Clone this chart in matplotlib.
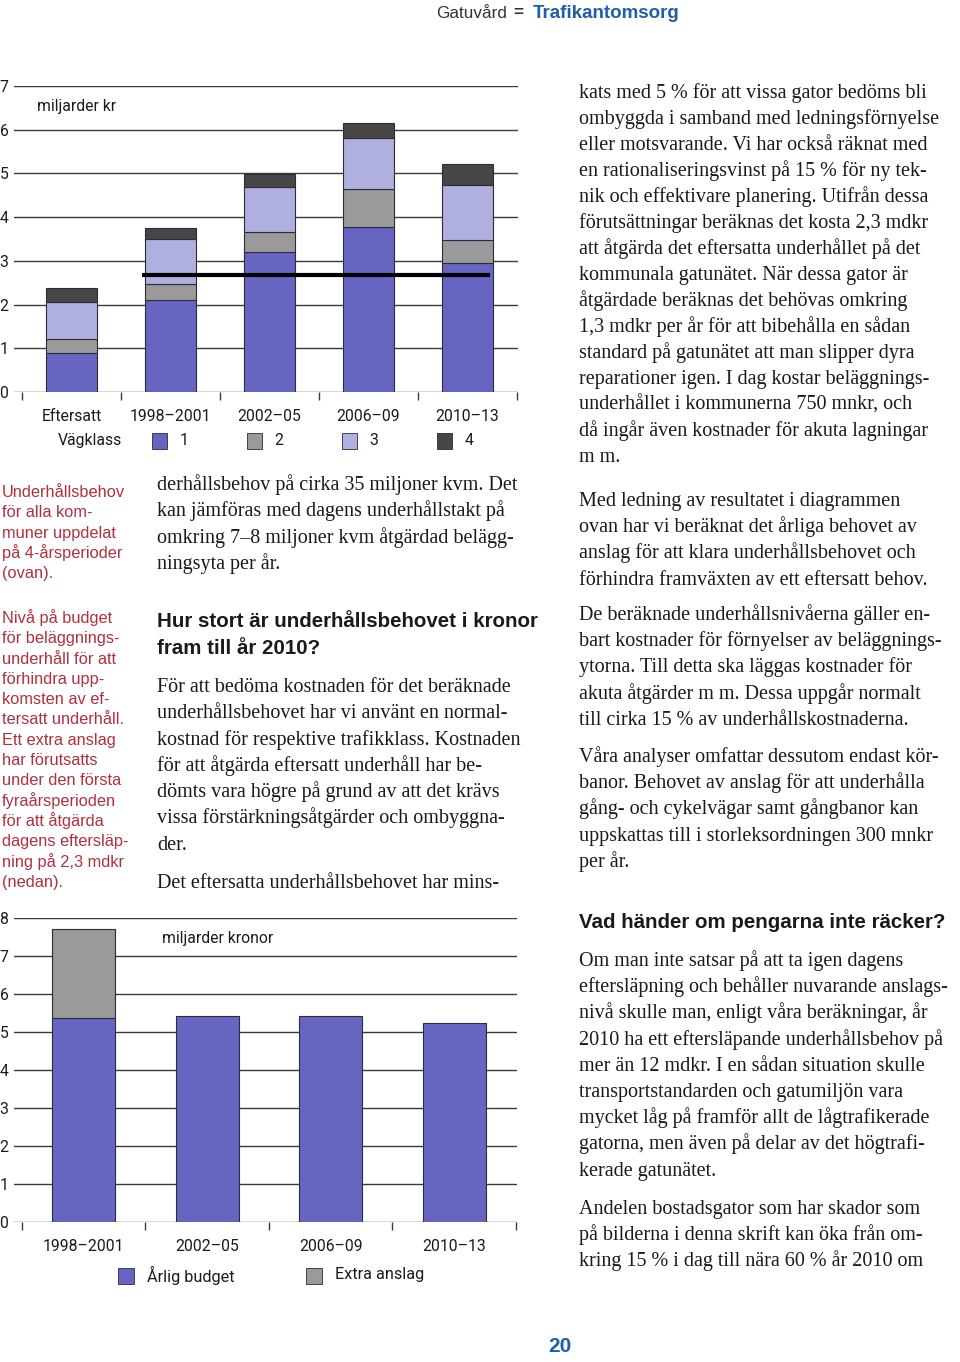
import matplotlib
matplotlib.use("Agg")
import matplotlib.pyplot as plt
from matplotlib.patches import Rectangle
import numpy as np

# ---------------- data ----------------
top_categories = ["Eftersatt", "1998–2001", "2002–05", "2006–09", "2010–13"]
class1 = [0.89, 2.11, 3.21, 3.78, 2.95]
class2 = [0.32, 0.36, 0.46, 0.87, 0.52]
class3 = [0.86, 1.03, 1.01, 1.17, 1.27]
class4 = [0.31, 0.25, 0.30, 0.33, 0.47]
class_labels = ["1", "2", "3", "4"]
budget_level = 2.68
top_yticks = [0, 1, 2, 3, 4, 5, 6, 7]

bottom_categories = ["1998–2001", "2002–05", "2006–09", "2010–13"]
annual_budget = [5.38, 5.42, 5.42, 5.23]
extra_grant = [2.33, 0.0, 0.0, 0.0]
bottom_labels = ["Årlig budget", "Extra anslag"]
bottom_yticks = [0, 1, 2, 3, 4, 5, 6, 7, 8]

# ---------------- style ----------------
C1, C2, C3, C4 = "#6666c2", "#9a9a9a", "#b0b0e0", "#464646"
EDGE = "#2b2b3a"
GRID = "#3a3a3a"
RED = "#b0303f"
BLUE = "#1f5fa8"
TXT = "#1a1a1a"
SANS = ["Roboto", "DejaVu Sans"]
CAPF = ["Liberation Sans", "DejaVu Sans"]
SERIF = ["Liberation Serif", "DejaVu Serif"]
CFS = 11.3  # chart font size

W, H = 960, 1362
fig = plt.figure(figsize=(W / 100, H / 100), dpi=100)
fig.patch.set_facecolor("white")


def fx(x):
    return x / W


def fy(y):
    return 1 - y / H


def ptext(x, y, s, **kw):
    fig.text(fx(x), fy(y), s, **kw)


# ---------------- top chart ----------------
ax1 = fig.add_axes([fx(14), fy(392), 504 / W, 306 / H])
x1 = np.arange(len(top_categories))
bw = 0.51
bottoms = np.zeros(len(x1))
for vals, col in zip([class1, class2, class3, class4], [C1, C2, C3, C4]):
    ax1.bar(x1, vals, bw, bottom=bottoms, color=col, edgecolor=EDGE,
            linewidth=0.8, zorder=3)
    bottoms += np.array(vals)
ax1.hlines(budget_level, x1[1] - bw / 2 - 0.03, x1[-1] + bw / 2 - 0.03,
           color="black", linewidth=3, zorder=4)
ax1.set_xlim(-0.5 - 8 / 99, 4.5 + 1 / 99)
ax1.set_ylim(0, 7)
for sp in ax1.spines.values():
    sp.set_visible(False)
ax1.set_yticks(top_yticks)
ax1.set_yticklabels([str(t) for t in top_yticks], family=SANS, fontsize=CFS,
                    color=TXT)
ax1.yaxis.grid(True, color=GRID, linewidth=1.0, zorder=0)
ax1.tick_params(axis="y", length=0, pad=4)
ax1.set_xticks(x1)
ax1.set_xticklabels(top_categories, family=SANS, fontsize=CFS, color=TXT)
ax1.tick_params(axis="x", which="major", length=0, pad=12)
ax1.set_xticks(np.arange(len(x1) + 1) - 0.5, minor=True)
ax1.tick_params(axis="x", which="minor", length=6, width=1.0, color=GRID,
                direction="out")
ax1.set_axisbelow(True)
ptext(37, 107, "miljarder kr", family=SANS, fontsize=CFS, color=TXT,
      ha="left", va="center")

# legend of top chart
ptext(90, 441, "Vägklass", family=SANS, fontsize=CFS, color=TXT,
      ha="center", va="center")
sq_x = [152, 247, 342, 437]
for sx, lab, col in zip(sq_x, class_labels, [C1, C2, C3, C4]):
    fig.add_artist(Rectangle((fx(sx), fy(449)), 15 / W, 16 / H,
                             transform=fig.transFigure, facecolor=col,
                             edgecolor=EDGE, linewidth=0.6))
    ptext(sx + 32, 440, lab, family=SANS, fontsize=CFS, color=TXT,
          ha="center", va="center")

# ---------------- bottom chart ----------------
ax2 = fig.add_axes([fx(14), fy(1222), 503 / W, 304 / H])
x2 = np.arange(len(bottom_categories))
ax2.bar(x2, annual_budget, bw, color=C1, edgecolor=EDGE, linewidth=0.8,
        zorder=3)
ax2.bar(x2, extra_grant, bw, bottom=annual_budget, color=C2,
        edgecolor=[EDGE if v > 0 else "none" for v in extra_grant],
        linewidth=0.8, zorder=3)
ax2.set_xlim(-0.5 - 8 / 123.5, 3.5 + 1 / 123.5)
ax2.set_ylim(0, 8)
for sp in ax2.spines.values():
    sp.set_visible(False)
ax2.set_yticks(bottom_yticks)
ax2.set_yticklabels([str(t) for t in bottom_yticks], family=SANS,
                    fontsize=CFS, color=TXT)
ax2.yaxis.grid(True, color=GRID, linewidth=1.0, zorder=0)
ax2.tick_params(axis="y", length=0, pad=4)
ax2.set_xticks(x2)
ax2.set_xticklabels(bottom_categories, family=SANS, fontsize=CFS, color=TXT)
ax2.tick_params(axis="x", which="major", length=0, pad=12)
ax2.set_xticks(np.arange(len(x2) + 1) - 0.5, minor=True)
ax2.tick_params(axis="x", which="minor", length=6, width=1.0, color=GRID,
                direction="out")
ax2.set_axisbelow(True)
ptext(162, 938, "miljarder kronor", family=SANS, fontsize=CFS, color=TXT,
      ha="left", va="center")

for sx, tx, lab, col in zip([118, 306], [147, 335], bottom_labels, [C1, C2]):
    fig.add_artist(Rectangle((fx(sx), fy(1284)), 16 / W, 16 / H,
                             transform=fig.transFigure, facecolor=col,
                             edgecolor=EDGE, linewidth=0.6))
    ptext(tx, 1275, lab, family=SANS, fontsize=CFS + 0.4, color=TXT,
          ha="left", va="center")

# ---------------- header / footer ----------------
ptext(436, 13, "Gatuvård", family=CAPF, fontsize=12.3, color="#333333",
      ha="left", va="center")
ptext(513, 13, "=", family=CAPF, fontsize=12.3, color="#333333",
      weight="bold", ha="left", va="center")
ptext(533, 13, "Trafikantomsorg", family=CAPF, fontsize=13.5, color=BLUE,
      weight="bold", ha="left", va="center")
ptext(560, 1347, "20", family=CAPF, fontsize=15, color=BLUE, weight="bold",
      ha="center", va="center")

# ---------------- captions (left, red) ----------------
cap1 = ["Underhållsbehov", "för alla kom-", "muner uppdelat",
        "på 4-årsperioder", "(ovan)."]
cap2 = ["Nivå på budget", "för beläggnings-", "underhåll för att",
        "förhindra upp-", "komsten av ef-", "tersatt underhåll.",
        "Ett extra anslag", "har förutsatts", "under den första",
        "fyraårsperioden", "för att åtgärda", "dagens eftersläp-",
        "ning på 2,3 mdkr", "(nedan)."]


def block(lines, x, y0, dy, **kw):
    for i, s in enumerate(lines):
        ptext(x, y0 + i * dy, s, ha="left", va="baseline", **kw)


capkw = dict(family=CAPF, fontsize=11.8, color=RED)
block(cap1, 2, 497, 20.3, **capkw)
block(cap2, 2, 623, 20.3, **capkw)

# ---------------- body text ----------------
bodykw = dict(family=SERIF, fontsize=14.5, color=TXT)
headkw = dict(family=CAPF, fontsize=14.8, color=TXT, weight="bold")

mid1 = ["derhållsbehov på cirka 35 miljoner kvm. Det",
        "kan jämföras med dagens underhållstakt på",
        "omkring 7–8 miljoner kvm åtgärdad belägg-",
        "ningsyta per år."]
block(mid1, 157, 490, 26.3, **bodykw)
block(["Hur stort är underhållsbehovet i kronor", "fram till år 2010?"],
      157, 627, 27, **headkw)
mid2 = ["För att bedöma kostnaden för det beräknade",
        "underhållsbehovet har vi använt en normal-",
        "kostnad för respektive trafikklass. Kostnaden",
        "för att åtgärda eftersatt underhåll har be-",
        "dömts vara högre på grund av att det krävs",
        "vissa förstärkningsåtgärder och ombyggna-",
        "der."]
block(mid2, 157, 692, 26.3, **bodykw)
block(["Det eftersatta underhållsbehovet har mins-"], 157, 888, 26.3,
      **bodykw)

r1 = ["kats med 5 % för att vissa gator bedöms bli",
      "ombyggda i samband med ledningsförnyelse",
      "eller motsvarande. Vi har också räknat med",
      "en rationaliseringsvinst på 15 % för ny tek-",
      "nik och effektivare planering. Utifrån dessa",
      "förutsättningar beräknas det kosta 2,3 mdkr",
      "att åtgärda det eftersatta underhållet på det",
      "kommunala gatunätet. När dessa gator är",
      "åtgärdade beräknas det behövas omkring",
      "1,3 mdkr per år för att bibehålla en sådan",
      "standard på gatunätet att man slipper dyra",
      "reparationer igen. I dag kostar beläggnings-",
      "underhållet i kommunerna 750 mnkr, och",
      "då ingår även kostnader för akuta lagningar",
      "m m."]
block(r1, 579, 98, 26.0, **bodykw)
r2 = ["Med ledning av resultatet i diagrammen",
      "ovan har vi beräknat det årliga behovet av",
      "anslag för att klara underhållsbehovet och",
      "förhindra framväxten av ett eftersatt behov."]
block(r2, 579, 506, 26.2, **bodykw)
r3 = ["De beräknade underhållsnivåerna gäller en-",
      "bart kostnader för förnyelser av beläggnings-",
      "ytorna. Till detta ska läggas kostnader för",
      "akuta åtgärder m m. Dessa uppgår normalt",
      "till cirka 15 % av underhållskostnaderna."]
block(r3, 579, 620, 26.2, **bodykw)
r4 = ["Våra analyser omfattar dessutom endast kör-",
      "banor. Behovet av anslag för att underhålla",
      "gång- och cykelvägar samt gångbanor kan",
      "uppskattas till i storleksordningen 300 mnkr",
      "per år."]
block(r4, 579, 762, 26.2, **bodykw)
block(["Vad händer om pengarna inte räcker?"], 579, 928, 26, **headkw)
r5 = ["Om man inte satsar på att ta igen dagens",
      "eftersläpning och behåller nuvarande anslags-",
      "nivå skulle man, enligt våra beräkningar, år",
      "2010 ha ett eftersläpande underhållsbehov på",
      "mer än 12 mdkr. I en sådan situation skulle",
      "transportstandarden och gatumiljön vara",
      "mycket låg på framför allt de lågtrafikerade",
      "gatorna, men även på delar av det högtrafi-",
      "kerade gatunätet."]
block(r5, 579, 966, 26.2, **bodykw)
r6 = ["Andelen bostadsgator som har skador som",
      "på bilderna i denna skrift kan öka från om-",
      "kring 15 % i dag till nära 60 % år 2010 om"]
block(r6, 579, 1214, 26.2, **bodykw)

fig.savefig("out.png", dpi=100, facecolor="white")
